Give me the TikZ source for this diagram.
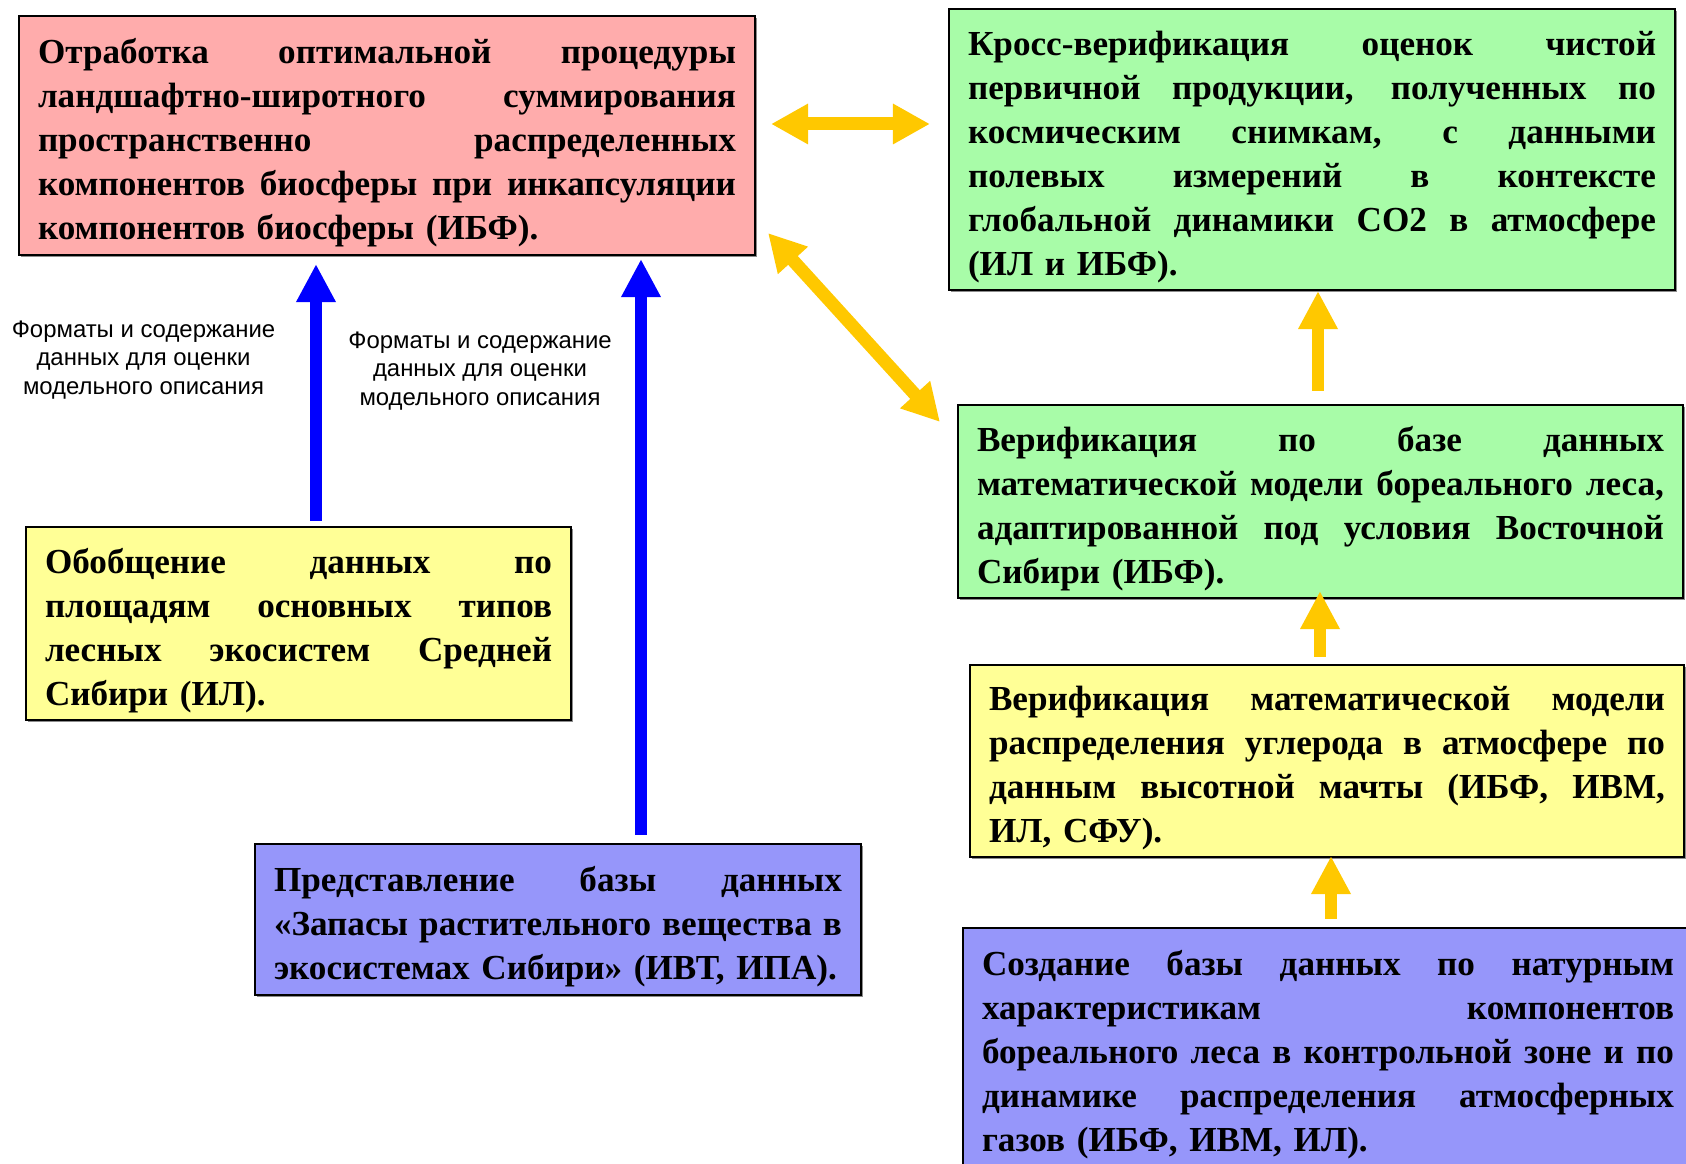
\documentclass[tikz,border=0pt]{standalone}
\usepackage{fontspec}
\setmainfont{Liberation Serif}
\newfontfamily\notefont{Liberation Sans}
\usetikzlibrary{positioning,calc,shadows,arrows.meta}

\definecolor{redfill}{RGB}{255,172,172}
\definecolor{greenfill}{RGB}{168,252,168}
\definecolor{yellowfill}{RGB}{255,255,150}
\definecolor{bluefill}{RGB}{150,150,250}
\definecolor{gold}{RGB}{255,200,0}

% one justified line of a box
\newcommand{\fl}[1]{\leavevmode\hbox to\hsize{\spaceskip=0.25em plus 1fil\relax #1}}

\begin{document}
\begin{tikzpicture}[
    taskbox/.style={draw=black, line width=0.6pt, inner xsep=0.19cm, inner ysep=0cm,
        align=left, text height=0.39cm, font=\bfseries\fontsize{10}{12.5}\selectfont,
        drop shadow={shadow xshift=0.6pt, shadow yshift=-0.6pt, fill=black!45, opacity=1}},
    note/.style={align=center, font=\notefont\fontsize{6.8}{8.2}\selectfont},
    bluearr/.style={draw=blue, line width=0.12cm, -{Triangle[width=0.37cm,length=0.38cm]}},
    yelarr/.style={draw=gold, line width=0.12cm, -{Triangle[width=0.37cm,length=0.38cm]}},
    yeldbl/.style={draw=gold, line width=0.13cm,
        {Triangle[width=0.38cm,length=0.37cm]}-{Triangle[width=0.38cm,length=0.37cm]}}
]
    \useasboundingbox (0,0) rectangle (16.86,11.63);
    \clip (0,0) rectangle (16.86,11.63);

    % boxes
    \node[taskbox, fill=redfill, text width=6.98cm, minimum height=2.39cm] (red) at (3.87,10.275)
        {\fl{Отработка оптимальной процедуры}\\
         \fl{ландшафтно-широтного суммирования}\\
         \fl{пространственно распределенных}\\
         \fl{компонентов биосферы при инкапсуляции}\\
         компонентов биосферы (ИБФ).};
    \node[taskbox, fill=greenfill, text width=6.88cm, minimum height=2.81cm] (gtop) at (13.12,10.135)
        {\fl{Кросс-верификация оценок чистой}\\
         \fl{первичной продукции, полученных по}\\
         \fl{космическим снимкам, с данными}\\
         \fl{полевых измерений в контексте}\\
         \fl{глобальной динамики СО2 в атмосфере}\\
         (ИЛ и ИБФ).};
    \node[taskbox, fill=greenfill, text width=6.87cm, minimum height=1.93cm] (gmid) at (13.205,6.615)
        {\fl{Верификация по базе данных}\\
         \fl{математической модели бореального леса,}\\
         \fl{адаптированной под условия Восточной}\\
         Сибири (ИБФ).};
    \node[taskbox, fill=yellowfill, text width=5.07cm, minimum height=1.93cm] (yleft) at (2.985,5.395)
        {\fl{Обобщение данных по}\\
         \fl{площадям основных типов}\\
         \fl{лесных экосистем Средней}\\
         Сибири (ИЛ).};
    \node[taskbox, fill=yellowfill, text width=6.76cm, minimum height=1.92cm] (yright) at (13.27,4.02)
        {\fl{Верификация математической модели}\\
         \fl{распределения углерода в атмосфере по}\\
         \fl{данным высотной мачты (ИБФ, ИВМ,}\\
         ИЛ, СФУ).};
    \node[taskbox, fill=bluefill, text width=5.68cm, minimum height=1.51cm] (bleft) at (5.58,2.435)
        {\fl{Представление базы данных}\\
         \fl{«Запасы растительного вещества в}\\
         экосистемах Сибири» (ИВТ, ИПА).};
    \node[taskbox, fill=bluefill, text width=6.92cm, minimum height=2.40cm] (bright) at (13.28,1.15)
        {\fl{Создание базы данных по натурным}\\
         \fl{характеристикам компонентов}\\
         \fl{бореального леса в контрольной зоне и по}\\
         \fl{динамике распределения атмосферных}\\
         газов (ИБФ, ИВМ, ИЛ).};

    % labels of the blue arrows
    \node[note] (lblA) at (1.435,8.03) {Форматы и содержание\\данных для оценки\\модельного описания};
    \node[note] (lblB) at (4.80,7.92) {Форматы и содержание\\данных для оценки\\модельного описания};

    % blue arrows
    \coordinate (b1) at (3.16,0);
    \coordinate (b2) at (6.41,0);
    \draw[bluearr, shorten <=0.05cm, shorten >=0.08cm] (yleft.north -| b1) -- (red.south -| b1);
    \draw[bluearr, shorten <=0.08cm, shorten >=0.03cm] (bleft.north -| b2) -- (red.south -| b2);

    % yellow arrows
    \coordinate (h1) at (0,10.39);
    \draw[yeldbl, shorten <=0.15cm, shorten >=0.18cm] (red.east |- h1) -- (gtop.west |- h1);
    \draw[yeldbl] ($(red.south east)+(0.12,0.23)$) -- ($(gmid.north west)+(-0.17,-0.18)$);
    \coordinate (v1) at (13.18,0);
    \coordinate (v2) at (13.20,0);
    \coordinate (v3) at (13.31,0);
    \draw[yelarr, shorten <=0.13cm] (gmid.north -| v1) -- (gtop.south -| v1);
    \draw[yelarr, shorten <=0.07cm, shorten >=-0.08cm] (yright.north -| v2) -- (gmid.south -| v2);
    \draw[yelarr, shorten <=0.08cm, shorten >=-0.02cm] (bright.north -| v3) -- (yright.south -| v3);
\end{tikzpicture}
\end{document}
